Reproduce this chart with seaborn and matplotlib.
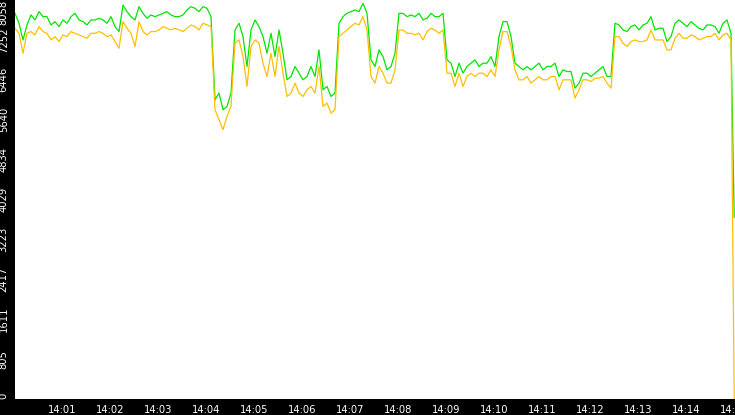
import matplotlib
matplotlib.use("Agg")
import matplotlib.pyplot as plt
import matplotlib.dates as mdates
import seaborn as sns
import pandas as pd
import numpy as np

green = [
    7789,7588,7252,7554,7756,7655,7823,7722,7722,7554,7621,7521,7655,7588,7722,7789,7655,7621,7554,7655,7655,7689,7655,7588,7722,7521,7420,7957,7823,7722,
    7655,7924,7789,7689,7756,7722,7756,7789,7823,7756,7722,7722,7756,7857,7924,7890,7823,7924,7890,7722,6043,6177,5842,5909,6177,7453,7588,7319,6715,7453,
    7655,7521,7319,6983,7386,6916,7453,6983,6446,6513,6715,6580,6446,6513,6715,6513,7050,6245,6312,6110,6177,7588,7722,7789,7823,7857,7823,7991,7789,6849,
    6715,7050,6916,6647,6715,6983,7789,7789,7722,7756,7722,7789,7655,7689,7789,7722,7722,7789,6849,6782,6513,6782,6580,6715,6782,6849,6715,6782,6782,6916,
    6715,7319,7621,7621,7319,6782,6715,6647,6715,6647,6715,6782,6647,6715,6715,6782,6513,6647,6614,6614,6278,6379,6580,6580,6513,6580,6647,6715,6513,6513,
    7588,7554,7453,7420,7521,7554,7453,7554,7588,7722,7453,7487,7487,7218,7319,7588,7655,7588,7521,7621,7554,7487,7453,7554,7554,7521,7386,7588,7655,7386,
    3665,
]
orange = [
    7487,7386,6983,7386,7420,7353,7521,7420,7386,7252,7319,7218,7353,7319,7420,7386,7353,7319,7286,7386,7386,7420,7386,7319,7353,7218,7084,7621,7487,7386,
    7118,7621,7420,7353,7420,7420,7453,7521,7487,7453,7487,7453,7420,7487,7554,7521,7453,7588,7554,7521,5842,5640,5439,5707,5909,7185,7252,6916,6312,7118,
    7252,7185,6782,6513,6983,6513,7118,6580,6110,6177,6379,6177,6110,6245,6312,6177,6715,5909,5976,5774,5842,7319,7386,7453,7521,7588,7554,7722,7453,6513,
    6379,6715,6580,6379,6379,6647,7453,7453,7386,7386,7353,7386,7252,7420,7487,7453,7386,7453,6580,6580,6312,6580,6312,6513,6580,6513,6580,6580,6513,6647,
    6513,7050,7420,7420,7118,6647,6446,6446,6513,6379,6446,6513,6446,6446,6513,6513,6245,6446,6446,6446,6076,6245,6446,6446,6412,6480,6480,6513,6379,6278,
    7319,7319,7185,7118,7218,7252,7218,7218,7252,7453,7252,7252,7252,7050,7050,7286,7386,7286,7286,7353,7319,7252,7286,7319,7319,7386,7252,7353,7386,7252,
    0,
]
ytick_values = [0, 805, 1611, 2417, 3223, 4029, 4834, 5640, 6446, 7252, 8058]
ytick_labels = ["0", "805", "1611", "2417", "3223", "4029", "4834", "5640", "6446", "7252", "8058"]

start = pd.Timestamp("2024-01-01 14:00:01")
times = list(pd.date_range(start, periods=len(green) - 1, freq="5s")) + [pd.Timestamp("2024-01-01 14:15:00")]

df = pd.DataFrame({"time": times, "green": green, "orange": orange})

sns.set_style("white")
plt.rcParams["font.family"] = ["DejaVu Sans"]

fig = plt.figure(figsize=(7.35, 4.15), dpi=100, facecolor="black")
ax = fig.add_axes([15 / 735, 16 / 415, 720 / 735, 399 / 415])
ax.set_facecolor("white")

sns.lineplot(data=df, x="time", y="green", color="#00e600", lw=0.9, ax=ax)
sns.lineplot(data=df, x="time", y="orange", color="#ffbf00", lw=0.9, ax=ax)

ax.set_xlim(pd.Timestamp("2024-01-01 14:00:01"), pd.Timestamp("2024-01-01 14:15:01"))
ax.set_ylim(0, 8058)
ax.set_xlabel("")
ax.set_ylabel("")

ax.xaxis.set_major_locator(mdates.MinuteLocator())
ax.xaxis.set_major_formatter(mdates.DateFormatter("%H:%M"))

ax.set_yticks(ytick_values)
ax.set_yticklabels(ytick_labels, rotation=90)
labels = ax.get_yticklabels()
for i, lab in enumerate(labels):
    lab.set_ha("right")
    if i == 0:
        lab.set_va("bottom")
    elif i == len(labels) - 1:
        lab.set_va("top")
    else:
        lab.set_va("center")

ax.tick_params(axis="both", colors="white", labelcolor="white", labelsize=7.2,
               direction="out", length=4, width=0.8)
ax.tick_params(axis="y", pad=0.5)
ax.tick_params(axis="x", pad=0.5)

for s in ax.spines.values():
    s.set_visible(False)
ax.grid(False)

fig.savefig("out.png", dpi=100, facecolor="black")
